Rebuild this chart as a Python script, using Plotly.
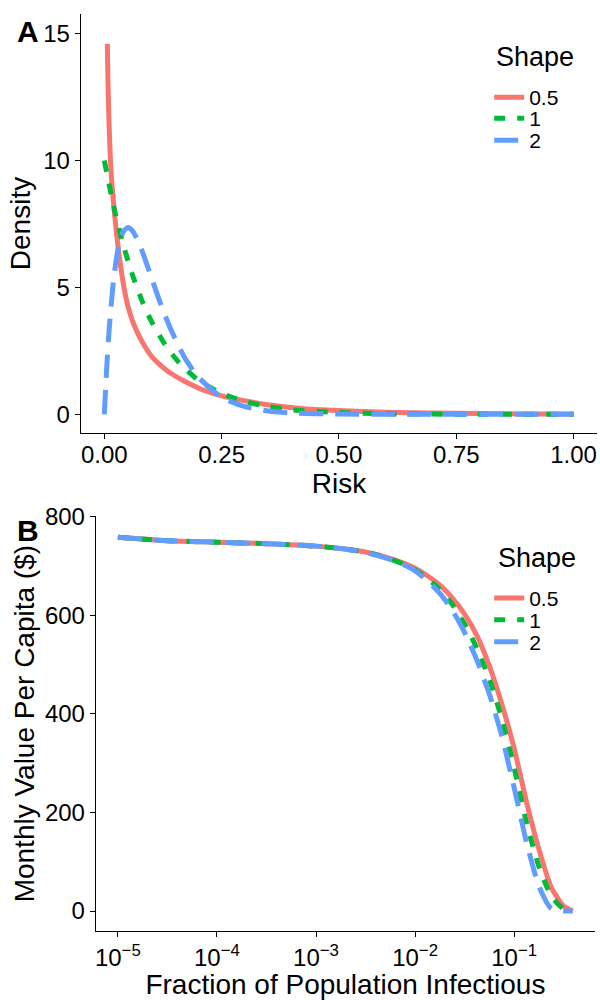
import plotly.graph_objects as go

# ---------------- Panel A data (Risk density) ----------------
risk_s05 = [0.0064, 0.008, 0.01, 0.0128, 0.016, 0.02, 0.025, 0.03, 0.035, 0.04, 0.045, 0.05,
            0.06, 0.07, 0.084, 0.10, 0.12, 0.134, 0.15, 0.17, 0.205, 0.24, 0.276, 0.348, 0.419,
            0.5, 0.6, 0.7, 0.8, 0.9, 1.0]
dens_s05 = [14.6, 12.9, 11.5, 10.1, 9.1, 8.25, 7.3, 6.5, 5.8, 5.2, 4.7, 4.28,
            3.68, 3.24, 2.75, 2.3, 1.93, 1.72, 1.52, 1.31, 1.0, 0.78, 0.62, 0.38, 0.23,
            0.15, 0.085, 0.05, 0.03, 0.015, 0.01]

risk_s1 = [0, 0.02, 0.04, 0.06, 0.08, 0.10, 0.13, 0.16, 0.20, 0.25, 0.30, 0.35, 0.40,
           0.5, 0.6, 0.7, 0.8, 0.9, 1.0]
dens_s1 = [10.0, 8.19, 6.70, 5.49, 4.49, 3.68, 2.73, 2.02, 1.35, 0.82, 0.50, 0.30, 0.18,
           0.07, 0.02, 0.01, 0.0, 0.0, 0.0]

risk_s2 = [0, 0.005, 0.01, 0.02, 0.03, 0.04, 0.05, 0.06, 0.07, 0.08, 0.10, 0.12, 0.14,
           0.17, 0.20, 0.25, 0.30, 0.35, 0.40, 0.5, 0.6, 0.7, 0.8, 0.9, 1.0]
dens_s2 = [0.0, 1.81, 3.27, 5.36, 6.59, 7.19, 7.36, 7.23, 6.90, 6.46, 5.41, 4.35, 3.42,
           2.27, 1.47, 0.67, 0.30, 0.13, 0.05, 0.01, 0.0, 0.0, 0.0, 0.0, 0.0]

# ---------------- Panel B data (Monthly value per capita) ----------------
frac_inf = [1e-5, 3.16e-5, 1e-4, 3.16e-4, 1e-3, 1.78e-3, 3.16e-3, 5.62e-3, 7.50e-3, 1e-2,
            1.33e-2, 1.78e-2, 2.37e-2, 3.16e-2, 4.22e-2, 5.62e-2, 7.50e-2, 0.1, 0.133,
            0.178, 0.237, 0.316, 0.39]
value_s05 = [758, 751, 748, 745, 740, 735, 728, 715, 706, 695, 680, 661, 635, 602, 558,
             497, 420, 330, 222, 125, 48, 10, 0]
value_s1 = [758, 751, 748, 745, 740, 735, 728, 714, 704, 692, 675, 652, 622, 582, 532,
            470, 390, 290, 180, 90, 30, 4, 0]
value_s2 = [758, 751, 748, 745, 740, 735, 727, 713, 703, 690, 670, 644, 610, 565, 508,
            440, 355, 250, 140, 50, 5, 0, 0]

shape_names = ["0.5", "1", "2"]
colors = ["#F8766D", "#00BA38", "#619CFF"]
dashes = ["solid", "11px,12px", "24px,12px"]

risk_tickvals = [0, 0.25, 0.5, 0.75, 1.0]
risk_ticktext = ["0.00", "0.25", "0.50", "0.75", "1.00"]
dens_tickvals = [0, 5, 10, 15]
frac_tickvals = [1e-5, 1e-4, 1e-3, 1e-2, 1e-1]
frac_ticktext = ["10<sup>\u22125</sup>", "10<sup>\u22124</sup>", "10<sup>\u22123</sup>",
                 "10<sup>\u22122</sup>", "10<sup>\u22121</sup>"]
value_tickvals = [0, 200, 400, 600, 800]

FONT = "Liberation Sans, Arial, Helvetica, sans-serif"
W, H = 600, 1000


def px_x(x):
    return x / W


def px_y(y):
    # convert a target picture row into a paper fraction
    fy = y / 0.9877 - 12.5
    return 1 - fy / H


fig = go.Figure()

panel_a = [(risk_s05, dens_s05), (risk_s1, dens_s1), (risk_s2, dens_s2)]
for i, (xs, ys) in enumerate(panel_a):
    fig.add_trace(go.Scatter(
        x=xs, y=ys, mode="lines", name=shape_names[i], showlegend=True,
        line=dict(color=colors[i], width=5, dash=dashes[i], shape="spline", smoothing=0.6),
        xaxis="x", yaxis="y", legend=["legend", "legend2", "legend3"][i],
        hoverinfo="skip"))

panel_b = [value_s05, value_s1, value_s2]
for i, ys in enumerate(panel_b):
    fig.add_trace(go.Scatter(
        x=frac_inf, y=ys, mode="lines", name=shape_names[i], showlegend=True,
        line=dict(color=colors[i], width=5, dash=dashes[i], shape="spline", smoothing=0.6),
        xaxis="x2", yaxis="y2", legend=["legend4", "legend5", "legend6"][i],
        hoverinfo="skip"))

axis_common = dict(showline=True, linecolor="black", linewidth=1.2, ticks="outside",
                   ticklen=5, tickwidth=1.2, tickcolor="black", showgrid=False,
                   zeroline=False, tickfont=dict(size=24, color="black", family=FONT),
                   title_font=dict(size=28, color="black", family=FONT))


def legend_at(y_px):
    return dict(x=px_x(489), xanchor="left", y=px_y(y_px), yanchor="middle",
                bgcolor="rgba(0,0,0,0)", borderwidth=0, itemwidth=30,
                font=dict(size=21, color="black", family=FONT))


fig.update_layout(
    width=W, height=H,
    showlegend=True,
    margin=dict(l=0, r=0, t=0, b=0),
    paper_bgcolor="white", plot_bgcolor="white",
    font=dict(family=FONT, color="black"),
    xaxis=dict(domain=[px_x(80), px_x(597)], range=[-0.05, 1.05], anchor="y",
               tickvals=risk_tickvals, ticktext=risk_ticktext, ticklabelstandoff=-5,
               title=dict(text="Risk", standoff=4), **axis_common),
    yaxis=dict(domain=[px_y(433), px_y(13)], range=[-0.75, 15.79], anchor="x",
               tickvals=dens_tickvals,
               title=dict(text="Density", standoff=4), **axis_common),
    xaxis2=dict(type="log", domain=[px_x(95), px_x(595)], range=[-5.222, -0.184], anchor="y2",
                tickvals=frac_tickvals, ticktext=frac_ticktext,
                title=dict(text="Fraction of Population Infectious", standoff=6), **axis_common),
    yaxis2=dict(domain=[px_y(931), px_y(516)], range=[-40.5, 800.5], anchor="x2",
                tickvals=value_tickvals,
                title=dict(text="Monthly Value Per Capita ($)", standoff=2), **axis_common),
    legend=legend_at(97), legend2=legend_at(118), legend3=legend_at(140),
    legend4=legend_at(598), legend5=legend_at(620), legend6=legend_at(642),
    annotations=[
        dict(text="<b>A</b>", x=px_x(27.5), y=px_y(30.5), xref="paper", yref="paper",
             showarrow=False, xanchor="center", yanchor="middle",
             font=dict(size=30, color="black", family=FONT)),
        dict(text="<b>B</b>", x=px_x(27.5), y=px_y(530), xref="paper", yref="paper",
             showarrow=False, xanchor="center", yanchor="middle",
             font=dict(size=30, color="black", family=FONT)),
        dict(text="Shape", x=px_x(494), y=px_y(56.5), xref="paper", yref="paper",
             showarrow=False, xanchor="left", yanchor="middle",
             font=dict(size=27, color="black", family=FONT)),
        dict(text="Shape", x=px_x(496), y=px_y(558), xref="paper", yref="paper",
             showarrow=False, xanchor="left", yanchor="middle",
             font=dict(size=27, color="black", family=FONT)),
    ],
)

fig.write_html("out.html")
